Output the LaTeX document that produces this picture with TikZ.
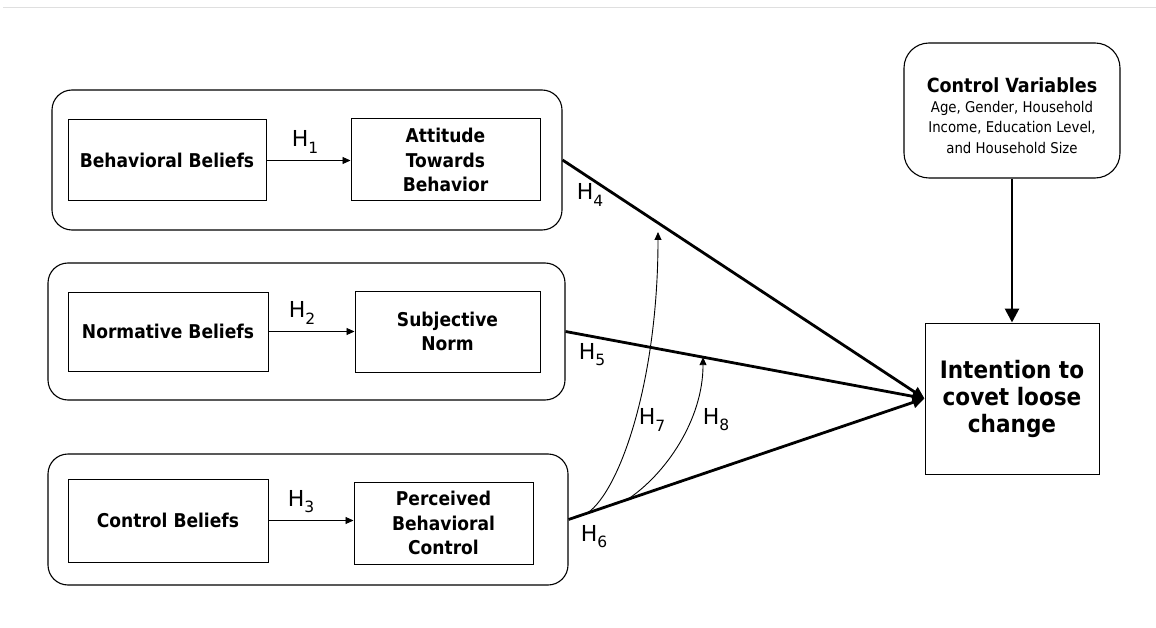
\documentclass[tikz,border=0pt]{standalone}
\usepackage{fontspec}
\setmainfont{DejaVu Sans}
\newfontfamily\tah{DejaVu Sans Condensed}
\usetikzlibrary{arrows.meta}
\newcommand\Hlab[1]{H\raisebox{-0.28em}{\fontsize{15.5}{15.5}\selectfont #1}}
\tikzset{
  outerbox/.style={draw, rounded corners=20pt, line width=1.1pt, inner sep=0pt},
  ibox/.style={draw, line width=1pt, align=center, inner sep=0pt,
    font=\tah\bfseries\fontsize{19}{24.5}\selectfont},
  hlab/.style={font=\fontsize{22}{22}\selectfont, inner sep=0pt},
  thinarrow/.style={line width=0.9pt, -{Triangle[length=8pt,width=7pt]}},
  thickarrow/.style={line width=2.8pt, -{Triangle[length=12pt,width=11pt]}},
}
\begin{document}
\begin{tikzpicture}[x=1pt,y=-1pt]
\useasboundingbox (0,0) rectangle (1156,628);
\draw[gray!25, line width=1pt] (3,8) -- (1156,8);
% outer groups
\node[outerbox, minimum width=510, minimum height=140] (o1) at (307,160) {};
\node[outerbox, minimum width=517, minimum height=137] (o2) at (306.5,331.5) {};
\node[outerbox, minimum width=520, minimum height=131] (o3) at (308,519.5) {};
% inner boxes
\node[ibox, minimum width=198, minimum height=81] (bb) at (167,160.5) {Behavioral Beliefs};
\node[ibox, minimum width=189, minimum height=82] (att) at (445.5,160) {Attitude\\Towards\\Behavior};
\node[ibox, minimum width=200, minimum height=79] (nb) at (168,331.5) {Normative Beliefs};
\node[ibox, minimum width=185, minimum height=81] (sn) at (447.5,331.5) {Subjective\\Norm};
\node[ibox, minimum width=200, minimum height=83] (cb) at (168,520.5) {Control Beliefs};
\node[ibox, minimum width=179, minimum height=82] (pbc) at (443.5,523) {Perceived\\Behavioral\\Control};
% outcome and controls
\node[draw, line width=1pt, minimum width=174, minimum height=151, align=center, inner sep=0pt,
  font=\tah\bfseries\fontsize{24}{27}\selectfont] (int) at (1012,398.5) {Intention to\\covet loose\\change};
\node[draw, line width=1.1pt, rounded corners=25pt, minimum width=216, minimum height=135, inner sep=0pt] (cv) at (1012,110.5) {};
\node[align=center, inner sep=0pt, font=\tah\fontsize{14.8}{20.5}\selectfont] (cvt) at ([yshift=-5pt]cv.center)
  {\bfseries\fontsize{19.5}{21}\selectfont Control Variables\\[-1pt]
   Age, Gender, Household\\Income, Education Level,\\and Household Size};
% H1-H3
\draw[thinarrow] (bb.east) -- (bb.east -| att.west);
\draw[thinarrow] (nb.east) -- (nb.east -| sn.west);
\draw[thinarrow] (cb.east) -- (cb.east -| pbc.west);
\node[hlab] (h1) at (305,142) {\Hlab{1}};
\node[hlab] (h2) at (302,313) {\Hlab{2}};
\node[hlab] (h3) at (301,502) {\Hlab{3}};
% H4-H6
\draw[thickarrow] (o1.east) -- (int.west);
\draw[thickarrow] (o2.east) -- coordinate[pos=0.383] (h8e) (int.west);
\draw[thickarrow] (o3.east) -- coordinate[pos=0.053] (h7s) coordinate[pos=0.165] (h8s) (int.west);
\node[hlab] (h4) at (590,195) {\Hlab{4}};
\node[hlab] (h5) at (592,355) {\Hlab{5}};
\node[hlab] (h6) at (594,537) {\Hlab{6}};
% moderators
\coordinate (h7e) at (658,232);
\draw[thinarrow] (h7s) .. controls +(33,-23) and +(0,148) .. (h7e);
\draw[thinarrow] (h8s) .. controls +(38,-25) and +(0,63) .. (h8e);
\node[hlab] (h7) at (652,420) {\Hlab{7}};
\node[hlab] (h8) at (716,420) {\Hlab{8}};
% control variables
\draw[line width=2.8pt, -{Triangle[length=14pt,width=14pt]}] (cv.south) -- (int.north);
\end{tikzpicture}
\end{document}
